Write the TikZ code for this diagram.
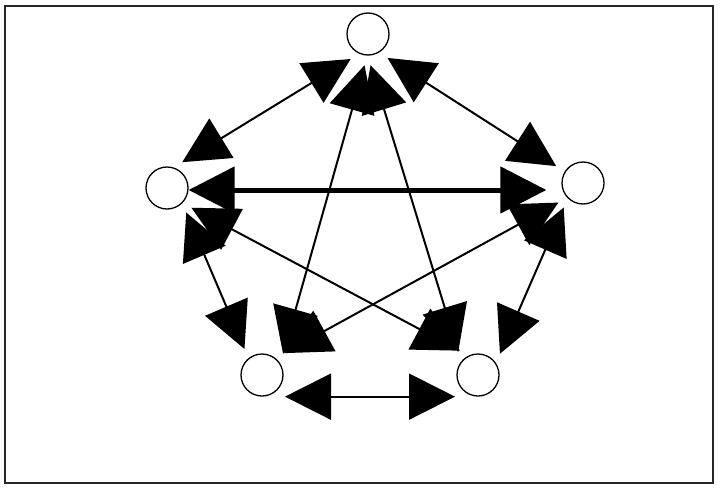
\documentclass[tikz,border=0pt]{standalone}
\usetikzlibrary{arrows.meta}
\begin{document}
\begin{tikzpicture}[x=1pt,y=-1pt,
  vtx/.style={circle,draw,line width=1.3pt,minimum size=42pt,inner sep=0pt},
  dbl/.style={{Triangle[length=46pt,width=46pt]}-{Triangle[length=46pt,width=46pt]},
    line width=2pt, shorten <=10pt, shorten >=10pt}]
\useasboundingbox (0,0) rectangle (726,490);
\draw[line width=2pt, black!85] (5,6) rectangle (713,483);
\node[vtx] (T)  at (368,34)  {};
\node[vtx] (L)  at (167,188) {};
\node[vtx] (R)  at (583,183) {};
\node[vtx] (BL) at (262,375) {};
\node[vtx] (BR) at (478,375) {};
\draw[dbl] (T.246) -- (L.72);
\draw[dbl] (T.301) -- (R.148);
\draw[dbl] (T.268) -- (BL.32);
\draw[dbl] (T.269) -- (BR.141);
\draw[dbl, line width=5pt, shorten <=0pt, shorten >=15pt] ([yshift=-2pt]L.east) -- ([yshift=-7pt]R.west);
\draw[dbl] (L.315) -- (BL.129);
\draw[dbl] (L.316) -- (BR.115);
\draw[dbl] (R.223) -- (BL.52);
\draw[dbl] (R.225) -- (BR.34);
\draw[dbl, shorten <=23pt, shorten >=23pt] (BL.south) -- (BR.south);
\end{tikzpicture}
\end{document}
